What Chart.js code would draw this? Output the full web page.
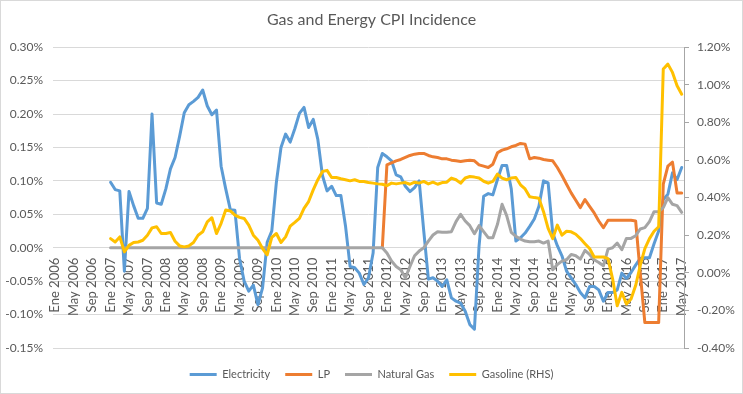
<!DOCTYPE html>
<html>
<head>
<meta charset="utf-8">
<title>Gas and Energy CPI Incidence</title>
<script src="https://cdn.jsdelivr.net/npm/chart.js@4.4.1/dist/chart.umd.min.js"></script>
<style>
    html, body { margin: 0; padding: 0; background: #fff; }
    #wrap {
        position: absolute; left: 0; top: 0;
        width: 743px; height: 394px;
        box-sizing: border-box;
        border: 1px solid #d9d9d9;
    }
</style>
</head>
<body>
<div id="wrap"><canvas id="cpiChart"></canvas></div>
<script>
// Monthly categories, Ene 2006 .. May 2017
const monthNames = ['Ene', 'Feb', 'Mar', 'Abr', 'May', 'Jun', 'Jul', 'Ago', 'Sep', 'Oct', 'Nov', 'Dic'];
const firstYear = 2006;
const lastYear = 2017;
const lastMonth = 'May';
const labelEvery = 4;

// Left axis (%): Electricity, LP, Natural Gas. Right axis (%): Gasoline
const leftTicks = { min: -0.15, max: 0.30, step: 0.05 };
const rightTicks = { min: -0.40, max: 1.20, step: 0.20 };

// series values in %, starting month noted for each
const electricityStart = 'Ene 2007';
const electricity = [
    0.098, 0.087, 0.085, -0.035, 0.084, 0.063, 0.044, 0.044, 0.059, 0.200, 0.067, 0.065,
    0.088, 0.118, 0.135, 0.167, 0.202, 0.214, 0.219, 0.225, 0.236, 0.212, 0.199, 0.206,
    0.122, 0.088, 0.057, 0.056, -0.016, -0.050, -0.065, -0.056, -0.085, -0.060, 0.008, 0.025,
    0.098, 0.150, 0.170, 0.158, 0.178, 0.201, 0.210, 0.180, 0.192, 0.162, 0.108, 0.085,
    0.092, 0.078, 0.078, 0.033, -0.028, -0.030, -0.038, -0.055, -0.045, -0.008, 0.120, 0.141,
    0.136, 0.130, 0.109, 0.106, 0.092, 0.084, 0.090, 0.100, 0.025, -0.047, -0.045, -0.050,
    -0.058, -0.048, -0.075, -0.080, -0.083, -0.095, -0.115, -0.122, 0.002, 0.077, 0.081, 0.079,
    0.102, 0.123, 0.123, 0.088, 0.010, 0.015, 0.022, 0.032, 0.043, 0.062, 0.100, 0.097,
    0.022, 0.003, -0.012, -0.035, -0.045, -0.055, -0.067, -0.075, -0.058, -0.058, -0.063, -0.080,
    -0.067, -0.067, -0.063, -0.038, -0.046, -0.037, -0.026, -0.016, -0.015, -0.015, 0.006, 0.025,
    0.072, 0.080, 0.112, 0.102, 0.120
];

const lpStart = 'Dic 2011';
const lp = [
    0.000,
    0.124, 0.127, 0.130, 0.132, 0.135, 0.138, 0.140, 0.141, 0.141, 0.138, 0.136, 0.135,
    0.133, 0.133, 0.131, 0.130, 0.129, 0.130, 0.131, 0.130, 0.124, 0.122, 0.120, 0.125,
    0.142, 0.146, 0.148, 0.151, 0.153, 0.156, 0.155, 0.133, 0.135, 0.134, 0.132, 0.131,
    0.130, 0.120, 0.108, 0.095, 0.082, 0.071, 0.060, 0.072, 0.062, 0.052, 0.040, 0.030,
    0.041, 0.041, 0.041, 0.041, 0.041, 0.041, 0.040, -0.038, -0.112, -0.112, -0.112, -0.112,
    0.095, 0.122, 0.128, 0.082, 0.082
];

const naturalGasStart = 'Ene 2007';
const naturalGas = [
    0, 0, 0, 0, 0, 0, 0, 0, 0, 0, 0, 0,
    0, 0, 0, 0, 0, 0, 0, 0, 0, 0, 0, 0,
    0, 0, 0, 0, 0, 0, 0, 0, 0, 0, 0, 0,
    0, 0, 0, 0, 0, 0, 0, 0, 0, 0, 0, 0,
    0, 0, 0, 0, 0, 0, 0, 0, 0, 0, 0, 0,
    -0.008, -0.020, -0.028, -0.033, -0.045, -0.028, -0.012, -0.005, 0.000, 0.010, 0.019, 0.024,
    0.023, 0.023, 0.024, 0.039, 0.050, 0.040, 0.033, 0.021, 0.033, 0.024, 0.015, 0.015,
    0.035, 0.065, 0.048, 0.023, 0.017, 0.013, 0.010, 0.009, 0.009, 0.010, 0.007, 0.010,
    -0.033, -0.025, -0.020, -0.018, -0.010, -0.012, -0.017, -0.004, -0.010, -0.018, -0.022, -0.027,
    -0.002, 0.000, 0.007, -0.003, 0.014, 0.014, 0.018, 0.028, 0.030, 0.039, 0.054, 0.054,
    0.060, 0.075, 0.065, 0.063, 0.053
];

const gasolineStart = 'Ene 2007';
const gasoline = [
    0.182, 0.164, 0.191, 0.111, 0.146, 0.161, 0.164, 0.173, 0.200, 0.239, 0.245, 0.209,
    0.209, 0.214, 0.168, 0.143, 0.138, 0.143, 0.161, 0.200, 0.218, 0.271, 0.293, 0.209,
    0.263, 0.334, 0.329, 0.307, 0.295, 0.289, 0.254, 0.200, 0.173, 0.129, 0.096, 0.188,
    0.209, 0.161, 0.191, 0.248, 0.268, 0.289, 0.343, 0.379, 0.441, 0.495, 0.539, 0.545,
    0.507, 0.507, 0.500, 0.495, 0.489, 0.495, 0.486, 0.486, 0.480, 0.477, 0.473, 0.471,
    0.464, 0.477, 0.473, 0.477, 0.480, 0.471, 0.482, 0.477, 0.486, 0.473, 0.482, 0.471,
    0.480, 0.482, 0.504, 0.495, 0.477, 0.504, 0.512, 0.509, 0.504, 0.487, 0.477, 0.486,
    0.525, 0.504, 0.495, 0.504, 0.507, 0.468, 0.446, 0.405, 0.400, 0.396, 0.325, 0.236,
    0.182, 0.254, 0.200, 0.221, 0.218, 0.205, 0.182, 0.155, 0.129, 0.084, 0.084, 0.084,
    0.075, -0.032, -0.175, -0.104, -0.166, -0.139, -0.068, 0.039, 0.129, 0.182, 0.221, 0.245,
    1.084, 1.110, 1.066, 0.995, 0.950
];

// build category labels
const months = [];
for (let y = firstYear; y <= lastYear; y++) {
    for (const m of monthNames) {
        months.push(m + ' ' + y);
        if (y === lastYear && m === lastMonth) break;
    }
}

// leading empty months before a series begins
function alignTo(start, values) {
    const lead = months.indexOf(start);
    return new Array(lead).fill(null).concat(values);
}

const FONT = "Lato, 'Open Sans', sans-serif";
const TEXT = '#595959';

function lineSet(label, color, data, axis, order) {
    return {
        label: label,
        data: data,
        yAxisID: axis,
        borderColor: color,
        backgroundColor: color,
        borderWidth: 3,
        borderJoinStyle: 'round',
        borderCapStyle: 'round',
        pointRadius: 0,
        pointHoverRadius: 0,
        tension: 0,
        spanGaps: false,
        order: order
    };
}

const pct = v => v.toFixed(2) + '%';

new Chart(document.getElementById('cpiChart'), {
    type: 'line',
    data: {
        labels: months,
        datasets: [
            lineSet('Electricity', '#5b9bd5', alignTo(electricityStart, electricity), 'y', 3),
            lineSet('LP', '#ed7d31', alignTo(lpStart, lp), 'y', 2),
            lineSet('Natural Gas', '#a5a5a5', alignTo(naturalGasStart, naturalGas), 'y', 1),
            lineSet('Gasoline (RHS)', '#ffc000', alignTo(gasolineStart, gasoline), 'y1', 0)
        ]
    },
    options: {
        responsive: true,
        maintainAspectRatio: false,
        animation: false,
        events: [],
        layout: {
            padding: { top: 0, right: 0, bottom: 3, left: 0 }
        },
        plugins: {
            title: {
                display: true,
                text: 'Gas and Energy CPI Incidence',
                color: TEXT,
                font: { family: FONT, size: 16, weight: 'normal' },
                padding: { top: 9, bottom: 18 }
            },
            legend: {
                position: 'bottom',
                labels: {
                    color: TEXT,
                    font: { family: FONT, size: 11 },
                    boxWidth: 27,
                    boxHeight: 3,
                    padding: 15,
                    generateLabels: chart => Chart.defaults.plugins.legend.labels
                        .generateLabels(chart)
                        .map(item => ({ ...item, lineWidth: 0 })),
                    sort: (a, b) => a.datasetIndex - b.datasetIndex
                }
            },
            tooltip: { enabled: false }
        },
        scales: {
            x: {
                type: 'category',
                position: { y: 0 },
                offset: true,
                grid: { display: false, drawTicks: false },
                border: { display: true, color: '#d9d9d9' },
                ticks: {
                    autoSkip: false,
                    minRotation: 90,
                    maxRotation: 90,
                    padding: 10,
                    color: TEXT,
                    font: { family: FONT, size: 13 },
                    callback: function (value, index) {
                        return index % labelEvery === 0 ? this.getLabelForValue(value) : '';
                    }
                }
            },
            xPad: {
                type: 'category',
                position: 'bottom',
                grid: { display: false, drawTicks: false },
                border: { display: false },
                ticks: { display: false },
                afterFit: s => { s.height = 6; }
            },
            y: {
                position: 'left',
                min: leftTicks.min,
                max: leftTicks.max,
                grid: { color: '#d9d9d9', lineWidth: 1, drawTicks: false },
                border: { display: false },
                ticks: {
                    stepSize: leftTicks.step,
                    padding: 10,
                    color: TEXT,
                    font: { family: FONT, size: 12 },
                    callback: pct
                },
                afterFit: s => { s.width = 52; }
            },
            y1: {
                position: 'right',
                min: rightTicks.min,
                max: rightTicks.max,
                grid: { drawOnChartArea: false, drawTicks: true, tickLength: 5, color: '#a6a6a6' },
                border: { display: true, color: '#a6a6a6' },
                ticks: {
                    stepSize: rightTicks.step,
                    padding: 8,
                    color: TEXT,
                    font: { family: FONT, size: 12 },
                    callback: pct
                },
                afterFit: s => { s.width = 58; }
            }
        }
    }
});
</script>
</body>
</html>
